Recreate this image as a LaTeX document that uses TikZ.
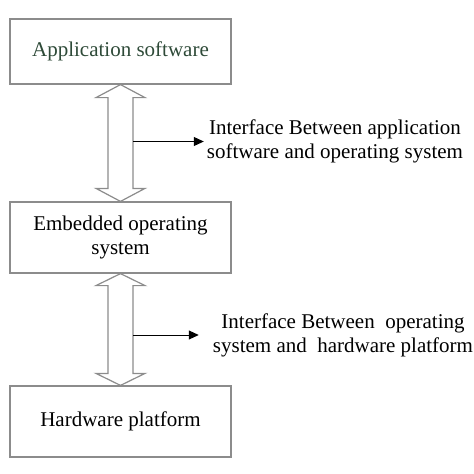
\documentclass[tikz,border=0pt]{standalone}
\usepackage{fontspec}
\setmainfont{Liberation Serif}
\usetikzlibrary{calc,arrows.meta}
\definecolor{boxgray}{HTML}{8C8C8C}
\definecolor{appgreen}{HTML}{2E4A38}
\begin{document}
\begin{tikzpicture}[x=1pt,y=-1pt,
  box/.style={draw=boxgray,line width=1.2pt,minimum width=221pt,inner sep=0pt,align=center,font=\fontsize{21}{24}\selectfont},
  lbl/.style={inner sep=0pt,align=center,font=\fontsize{21}{24}\selectfont},
  dbl/.style={draw=boxgray,line width=1.2pt,fill=white,line join=miter},
  ptr/.style={line width=1pt,-{Triangle[length=10pt,width=9pt]}}]
\useasboundingbox (0,0) rectangle (474,474);
\node[box,minimum height=65pt,text=appgreen] (a) at (120.5,51.5) {Application software};
\node[box,minimum height=71pt] (b) at (120.5,237.5) {Embedded operating\\system};
\node[box,minimum height=71pt] (c) at (120.5,421.5) {Hardware platform};
\node[lbl] (l1) at (335,141.5) {Interface Between application\\software and operating system};
\node[lbl] (l2) at (343,335) {Interface Between~ operating\\system and~ hardware platform};
% double arrow 1
\coordinate (t1) at (a.south);
\coordinate (t2) at (b.north);
\draw[dbl] (t1) -- ($(t1)+(24.5,13)$) -- ($(t1)+(12.5,13)$) -- ($(t2)+(12.5,-13)$) -- ($(t2)+(24.5,-13)$) -- (t2) -- ($(t2)+(-24.5,-13)$) -- ($(t2)+(-12.5,-13)$) -- ($(t1)+(-12.5,13)$) -- ($(t1)+(-24.5,13)$) -- cycle;
% double arrow 2
\coordinate (t3) at (b.south);
\coordinate (t4) at (c.north);
\draw[dbl] (t3) -- ($(t3)+(24.5,12)$) -- ($(t3)+(12.5,12)$) -- ($(t4)+(12.5,-12)$) -- ($(t4)+(24.5,-12)$) -- (t4) -- ($(t4)+(-24.5,-12)$) -- ($(t4)+(-12.5,-12)$) -- ($(t3)+(-12.5,12)$) -- ($(t3)+(-24.5,12)$) -- cycle;
\coordinate (s1) at ($(a.south)+(12.5,0)$);
\coordinate (s2) at ($(b.south)+(12.5,0)$);
\draw[ptr] (s1 |- l1.west) -- ($(l1.west)+(-3,0)$);
\draw[ptr] (s2 |- l2.west) -- ($(l2.west)+(-14,0)$);
\end{tikzpicture}
\end{document}
